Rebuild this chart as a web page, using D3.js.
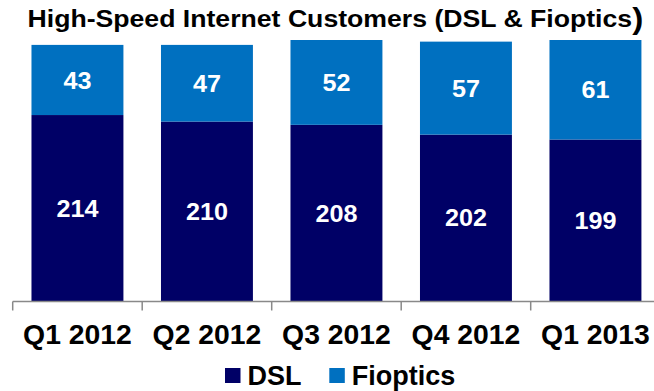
<!DOCTYPE html>
<html>
<head>
<meta charset="utf-8">
<script src="https://cdn.jsdelivr.net/npm/d3@7"></script>
<style>
  body { margin: 0; background: #fff; }
  text { font-family: "Liberation Sans", Arial, sans-serif; font-weight: bold; }
</style>
</head>
<body>
<svg id="chart"></svg>
<script>
// data, in thousands of customers
var quarters = ["Q1 2012", "Q2 2012", "Q3 2012", "Q4 2012", "Q1 2013"];
var dsl = [214, 210, 208, 202, 199];
var fioptics = [43, 47, 52, 57, 61];
var seriesNames = ["DSL", "Fioptics"];
var seriesColors = ["#000066", "#0070C0"];

var width = 654;
var height = 391;

var svg = d3.select("#chart")
            .attr("width", width)
            .attr("height", height);

var rows = quarters.map(function(q, i) {
  return { quarter: q, DSL: dsl[i], Fioptics: fioptics[i] };
});

var stack = d3.stack().keys(seriesNames);
var stacked = stack(rows);

// the value axis of the original starts at 100, not 0
var x = d3.scaleBand()
          .domain(quarters)
          .range([12.7, 660.2])
          .paddingInner(0.29)
          .paddingOuter(0.145);

var y = d3.scaleLinear()
          .domain([100, 260])
          .range([301, 40]);

var color = d3.scaleOrdinal().domain(seriesNames).range(seriesColors);

// title
var title = svg.append("text")
   .attr("transform", "translate(27.5,27) scale(1.11,1)")
   .attr("font-size", 24)
   .attr("fill", "#000");
title.append("tspan").text("High-Speed Internet Customers (DSL & Fioptics");
title.append("tspan").attr("font-size", 30).attr("dy", 2).text(")");

// bars
var layer = svg.selectAll("g.layer")
   .data(stacked)
   .enter()
   .append("g")
   .attr("class", "layer")
   .attr("fill", function(d) { return color(d.key); });

layer.selectAll("rect")
   .data(function(d) { return d; })
   .enter()
   .append("rect")
   .attr("x", function(d) { return x(d.data.quarter); })
   .attr("y", function(d) { return y(d[1]); })
   .attr("width", x.bandwidth())
   .attr("height", function(d) { return y(Math.max(d[0], 100)) - y(d[1]); });

// value labels in the middle of each segment
layer.selectAll("text")
   .data(function(d) { return d; })
   .enter()
   .append("text")
   .attr("transform", function(d) {
     var lo = Math.max(d[0], 100);
     var cy = (y(lo) + y(d[1])) / 2;
     return "translate(" + (x(d.data.quarter) + x.bandwidth() / 2) + "," + cy + ") scale(1.05,1)";
   })
   .attr("dy", "0.36em")
   .attr("text-anchor", "middle")
   .attr("font-size", 24)
   .attr("fill", "#fff")
   .text(function(d) { return d[1] - d[0]; });

// category axis, ticks sit between the bars
var step = x.step();
var gap = step * x.paddingInner();
var axisY = y(100) + 0.5;
var axis = svg.append("g").attr("stroke", "#898989").attr("stroke-width", 1.5);

axis.append("line")
   .attr("x1", x.range()[0]).attr("x2", x.range()[1])
   .attr("y1", axisY).attr("y2", axisY);

axis.selectAll("line.tick")
   .data(quarters)
   .enter()
   .append("line")
   .attr("class", "tick")
   .attr("x1", function(d) { return x(d) - gap / 2; })
   .attr("x2", function(d) { return x(d) - gap / 2; })
   .attr("y1", axisY)
   .attr("y2", axisY + 9);

svg.selectAll("text.cat")
   .data(quarters)
   .enter()
   .append("text")
   .attr("class", "cat")
   .attr("transform", function(d) {
     return "translate(" + (x(d) + x.bandwidth() / 2) + ",344) scale(1.05,1)";
   })
   .attr("text-anchor", "middle")
   .attr("font-size", 27)
   .attr("fill", "#000")
   .text(function(d) { return d; });

// legend
var legendX = [225, 329.3];
var legend = svg.selectAll("g.legend")
   .data(seriesNames)
   .enter()
   .append("g")
   .attr("class", "legend")
   .attr("transform", function(d, i) { return "translate(" + legendX[i] + ",368)"; });

legend.append("rect")
   .attr("width", 15.5)
   .attr("height", 15)
   .attr("fill", function(d) { return color(d); });

legend.append("text")
   .attr("x", 22.5)
   .attr("y", 16.5)
   .attr("font-size", 27)
   .attr("fill", "#000")
   .text(function(d) { return d; });
</script>
</body>
</html>
